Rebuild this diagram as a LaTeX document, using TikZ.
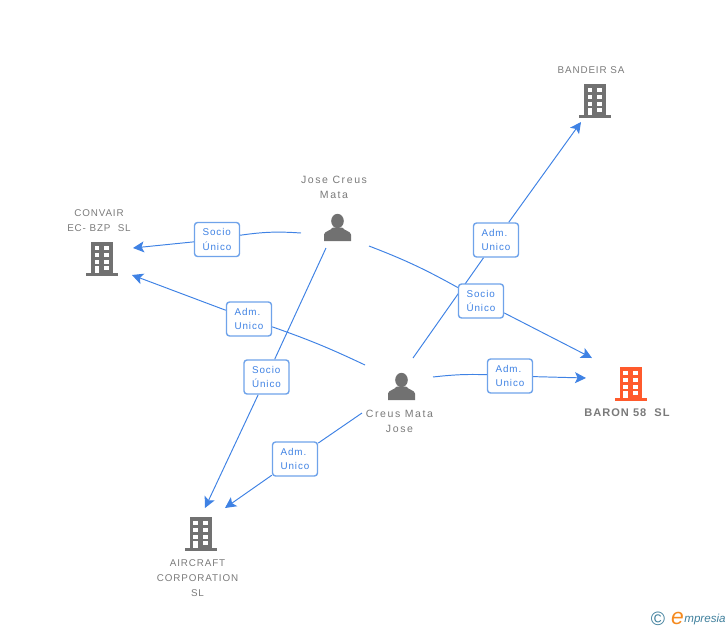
\documentclass[tikz,border=0pt]{standalone}
\usepackage{fontspec}
\setmainfont{Liberation Sans}[LetterSpace=9]
\usetikzlibrary{arrows.meta}
\usetikzlibrary{backgrounds}
\definecolor{linkblue}{HTML}{3F82E4}
\definecolor{boxblue}{HTML}{6FA3EA}
\definecolor{icongray}{HTML}{717171}
\definecolor{textgray}{HTML}{7A7A7A}
\definecolor{baronred}{HTML}{FF5A2C}
\definecolor{logoteal}{HTML}{3F7F9C}
\definecolor{logoorange}{HTML}{F58A1F}

\begin{document}
\begin{tikzpicture}[x=0.02cm, y=-0.02cm]
		\tikzset{line/.style={draw = linkblue, line width = 0.55pt}}
		\tikzset{edge/.style={line, -{Stealth[length = 2.2mm, width = 2.2mm, inset = 0.5mm]}}}
		\tikzset{role/.style={shape = rectangle, draw = boxblue, fill = white, rounded corners = 0.06cm,
				line width = 0.8pt, minimum width = 0.9cm, minimum height = 0.68cm, inner sep = 0pt,
				align = left, text = linkblue, font = \fontsize{5.6}{8.5}\selectfont}}
		\tikzset{caption/.style={align = center, text = textgray, inner sep = 0pt, font = \fontsize{5.6}{8.5}\selectfont}}
		\tikzset{who/.style={caption, font = \fontsize{6}{8.5}\selectfont\addfontfeatures{LetterSpace=15}}}
		\tikzset{building/.pic={
				\fill[pic actions] (-11, -17) rectangle (11, 14);
				\fill[pic actions] (-16, 14) rectangle (16, 17);
				\foreach \wy in {-13, -6.3, 0.6} {
					\fill[white] (-7.5, \wy) rectangle (-2.7, \wy + 3.9);
					\fill[white] (2.2, \wy) rectangle (7.2, \wy + 3.9);
				}
				\fill[white] (-7.5, 6.8) rectangle (-2.7, 14);
				\fill[white] (2.2, 6.8) rectangle (7.2, 10.8);
		}}
		\tikzset{person/.pic={
				\fill[pic actions] (0, -6.5) ellipse (6.3 and 7.2);
				\fill[pic actions] (-13.5, 13.5) -- (-13.5, 7) .. controls (-13, 3.5) and (-7, 3.5) .. (-4.7, 0)
					-- (4.7, 0) .. controls (7, 3.5) and (13, 3.5) .. (13.5, 7) -- (13.5, 13.5) -- cycle;
		}}
		\useasboundingbox (0, 0) rectangle (728, 630);
		%icons
		\pic[fill = icongray] at (337.5, 227.5) {person};
		\pic[fill = icongray] at (401.5, 386.5) {person};
		\pic[fill = icongray] at (102, 259) {building};
		\pic[fill = icongray] at (595, 101) {building};
		\pic[fill = icongray] at (200.5, 534) {building};
		\pic[fill = baronred] at (630.5, 384) {building};
		%names
		\node[who] (josecreus) at (334, 187.5) {Jose Creus\\Mata};
		\node[who] (creusmata) at (399.5, 421.5) {Creus Mata\\Jose};
		\node[caption] (convair) at (99, 221) {CONVAIR\\EC- BZP\ \ SL};
		\node[caption] (bandeir) at (591, 70.5) {BANDEIR SA};
		\node[caption] (aircraft) at (197.5, 578.5) {AIRCRAFT\\CORPORATION\\SL};
		\node[caption, font = \fontsize{6.3}{8.5}\selectfont\bfseries] (baron) at (627, 412.5) {BARON 58\ \ SL};
		%ends of the links
		\coordinate (joseW) at (301, 233);
		\coordinate (joseE) at (369, 246);
		\coordinate (joseS) at (326, 248);
		\coordinate (creusW) at (365, 365);
		\coordinate (creusN) at (413, 358);
		\coordinate (creusE) at (433, 377);
		\coordinate (creusS) at (362, 413);
		\coordinate (toconvairA) at (133, 248);
		\coordinate (toconvairB) at (132, 275);
		\coordinate (tobandeir) at (581, 122);
		\coordinate (tobaronA) at (592, 358);
		\coordinate (tobaronB) at (586, 378);
		\coordinate (toaircraftA) at (205, 508);
		\coordinate (toaircraftB) at (225, 508);
		%role boxes
		\node[role] (socioconvair) at (217, 239.5) {Socio\\Único};
		\node[role] (admconvair) at (249, 319) {Adm.\\Unico};
		\node[role] (sociobaron) at (481, 301) {Socio\\Único};
		\node[role] (admbaron) at (510, 376) {Adm.\\Unico};
		\node[role] (admbandeir) at (496, 240) {Adm.\\Unico};
		\node[role] (socioaircraft) at (266.5, 377) {Socio\\Único};
		\node[role] (admaircraft) at (295, 459) {Adm.\\Unico};
		%edges
		\begin{scope}[on background layer]
			\draw[line] (joseW) to[bend right = 6] (socioconvair);
			\draw[edge] (socioconvair) -- (toconvairA);
			\draw[line] (joseE) to[bend left = 4] (sociobaron);
			\draw[edge] (sociobaron) -- (tobaronA);
			\draw[line] (joseS) -- (socioaircraft);
			\draw[edge] (socioaircraft) -- (toaircraftA);
			\draw[line] (creusW) to[bend right = 3] (admconvair);
			\draw[edge] (admconvair) -- (toconvairB);
			\draw[line] (creusN) -- (admbandeir);
			\draw[edge] (admbandeir) -- (tobandeir);
			\draw[line] (creusE) to[bend left = 4] (admbaron);
			\draw[edge] (admbaron) -- (tobaronB);
			\draw[line] (creusS) -- (admaircraft);
			\draw[edge] (admaircraft) -- (toaircraftB);
		\end{scope}
		%logo
		\node[text = logoteal, inner sep = 0pt, font = \fontsize{11}{11}\selectfont\addfontfeatures{LetterSpace=0}] (logoc) at (658, 619) {©};
		\node[text = logoorange, inner sep = 0pt, font = \fontsize{13}{13}\selectfont\itshape\addfontfeatures{LetterSpace=0}] (logoe) at (677.5, 618) {e};
		\node[text = logoteal, inner sep = 0pt, anchor = west, font = \fontsize{6.6}{8}\selectfont\itshape\addfontfeatures{LetterSpace=0}] (logom) at (684, 619) {mpresia};
\end{tikzpicture}
\end{document}
